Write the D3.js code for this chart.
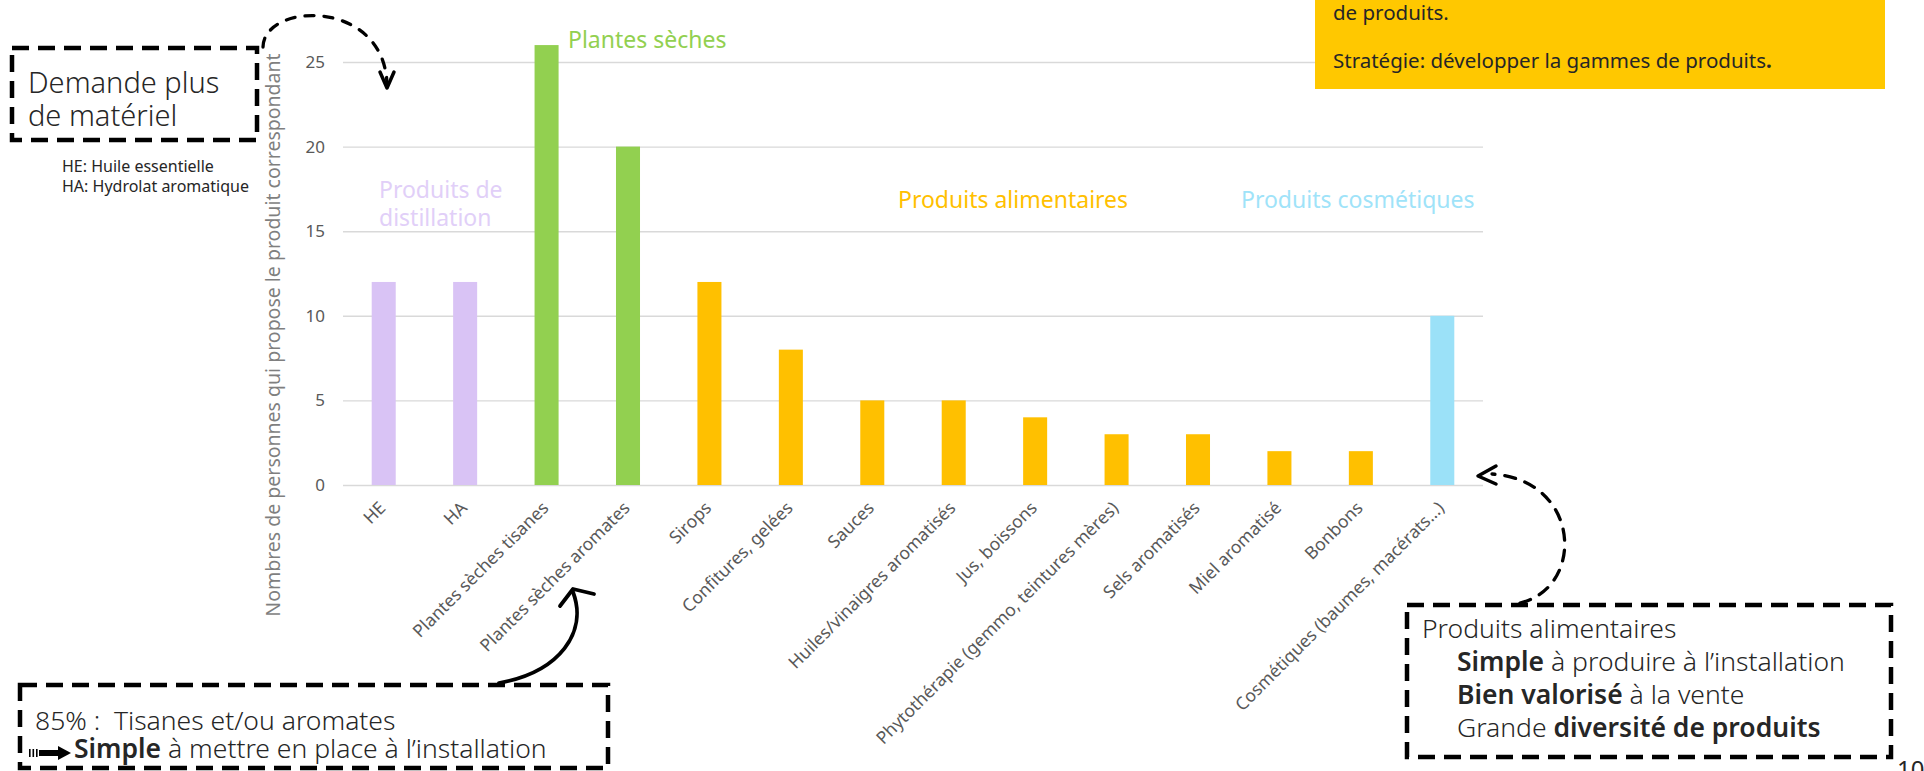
<!DOCTYPE html>
<html>
<head>
<meta charset="utf-8">
<script src="https://cdn.jsdelivr.net/npm/d3@7"></script>
<style>
body { margin: 0; background: #fff; }
svg { display: block; }
text { font-family: "Noto Sans", "Open Sans", sans-serif; white-space: pre; }
</style>
</head>
<body>
<svg width="1924" height="771"></svg>
<script>
// data
var categories = ["HE", "HA", "Plantes sèches tisanes", "Plantes sèches aromates", "Sirops",
	"Confitures, gelées", "Sauces", "Huiles/vinaigres aromatisés", "Jus, boissons",
	"Phytothérapie (gemmo, teintures mères)", "Sels aromatisés", "Miel aromatisé", "Bonbons",
	"Cosmétiques (baumes, macérats…)"];
var values = [12, 12, 26, 20, 12, 8, 5, 5, 4, 3, 3, 2, 2, 10];
var groupOf = ["dist", "dist", "plantes", "plantes", "alim", "alim", "alim", "alim", "alim",
	"alim", "alim", "alim", "alim", "cosm"];
var yTicks = [0, 5, 10, 15, 20, 25];
var yTitle = "Nombres de personnes qui propose le produit correspondant";

var groupKeys = ["dist", "plantes", "alim", "cosm"];
var groupNames = [["Produits de", "distillation"], ["Plantes sèches"], ["Produits alimentaires"], ["Produits cosmétiques"]];
var barColors = ["#d9c3f5", "#92d050", "#ffc000", "#9be1f8"];
var labelColors = ["#e1cff8", "#92d050", "#ffc000", "#9fe3f9"];

var svg = d3.select("svg");
// plot area (note: "top" is reserved on window, so use other names)
var plotLeft = 343, plotRight = 1483, plotTop = 62, plotBottom = 485;

var x = d3.scaleBand()
	.domain(categories)
	.range([plotLeft, plotRight])
	.paddingInner(0.705)
	.paddingOuter(0.3525);
var y = d3.scaleLinear()
	.domain([0, 25])
	.range([plotBottom, plotTop]);
var color = d3.scaleOrdinal().domain(groupKeys).range(barColors);
var lblColor = d3.scaleOrdinal().domain(groupKeys).range(labelColors);

// gridlines + y ticks
var gy = svg.append("g")
	.attr("transform", "translate(" + plotLeft + ",0)")
	.call(d3.axisLeft(y).tickValues(yTicks).tickSize(-(plotRight - plotLeft)).tickPadding(18));
gy.select(".domain").remove();
gy.selectAll("line").attr("stroke", "#d9d9d9").attr("stroke-width", 1.4);
gy.selectAll("text").attr("fill", "#595959").style("font-size", "17px")
	.style("font-family", "'Noto Sans', sans-serif");

// bars
svg.selectAll(".bar")
	.data(values)
	.enter().append("rect")
	.attr("class", "bar")
	.attr("x", function (d, i) { return x(categories[i]); })
	.attr("y", function (d) { return y(d); })
	.attr("width", x.bandwidth())
	.attr("height", function (d) { return y(0) - y(d); })
	.attr("fill", function (d, i) { return color(groupOf[i]); });

// x labels, rotated
var gx = svg.append("g")
	.attr("transform", "translate(0," + plotBottom + ")")
	.call(d3.axisBottom(x).tickSize(0));
gx.select(".domain").remove();
gx.selectAll("text")
	.attr("x", 0).attr("y", 0).attr("dy", 0)
	.attr("text-anchor", "end")
	.attr("transform", "translate(3,24) rotate(-45)")
	.attr("fill", "#595959")
	.style("font-size", "17.5px")
	.style("font-family", "'Noto Sans', sans-serif");

// y title
svg.append("text")
	.attr("transform", "translate(280,335) rotate(-90)")
	.attr("text-anchor", "middle")
	.attr("fill", "#7f7f7f")
	.style("font-size", "19.5px")
	.text(yTitle);

// group labels
var groupPos = [[379, 198], [568, 48], [898, 208], [1241, 208]];
groupNames.forEach(function (lines, i) {
	var t = svg.append("text")
		.attr("x", groupPos[i][0])
		.attr("y", groupPos[i][1])
		.attr("fill", lblColor(groupKeys[i]))
		.style("font-size", "23px");
	lines.forEach(function (l, j) {
		t.append("tspan").attr("x", groupPos[i][0]).attr("dy", j ? 28 : 0).text(l);
	});
});

// yellow note box, top right
svg.append("rect").attr("x", 1315).attr("y", 0).attr("width", 570).attr("height", 89).attr("fill", "#ffc800");
svg.append("text").attr("x", 1333).attr("y", 20).attr("fill", "#262626").style("font-size", "20.5px").text("de produits.");
svg.append("text").attr("x", 1333).attr("y", 68).attr("fill", "#262626").style("font-size", "20.5px")
	.text("Stratégie: développer la gammes de produits")
	.append("tspan").style("font-weight", "bold").text(".");

// dashed boxes
function dashBox(x0, y0, w, h) {
	svg.append("rect")
		.attr("x", x0).attr("y", y0).attr("width", w).attr("height", h)
		.attr("fill", "none").attr("stroke", "#000").attr("stroke-width", 4.5)
		.attr("stroke-dasharray", "17,9");
}
dashBox(12, 48, 245, 92);
dashBox(20, 685, 588, 83);
dashBox(1407, 605, 484, 152);

var ink = "#262626";
// top left box
svg.append("text").attr("x", 28).attr("y", 93).attr("fill", ink).style("font-size", "29px").style("font-weight", 300).text("Demande plus");
svg.append("text").attr("x", 28).attr("y", 126).attr("fill", ink).style("font-size", "29px").style("font-weight", 300).text("de matériel");
svg.append("text").attr("x", 62).attr("y", 172).attr("fill", ink).style("font-size", "16px").text("HE: Huile essentielle");
svg.append("text").attr("x", 62).attr("y", 192).attr("fill", ink).style("font-size", "16px").text("HA: Hydrolat aromatique");

// bottom left box
svg.append("text").attr("x", 35).attr("y", 730).attr("fill", ink).style("font-size", "26.5px").style("font-weight", 300)
	.text("85% :  Tisanes et/ou aromates");
var t2 = svg.append("text").attr("x", 74).attr("y", 758).attr("fill", ink).style("font-size", "26.5px").style("font-weight", 300);
t2.append("tspan").style("font-weight", 600).text("Simple");
t2.append("tspan").text(" à mettre en place à l’installation");
// striped arrow icon
[29, 32.5, 36].forEach(function (bx) {
	svg.append("rect").attr("x", bx).attr("y", 749).attr("width", 1.6).attr("height", 8).attr("fill", "#000");
});
svg.append("rect").attr("x", 39).attr("y", 750).attr("width", 20).attr("height", 6).attr("fill", "#000");
svg.append("path").attr("d", "M58,746 L71,753 L58,760 Z").attr("fill", "#000");

// bottom right box
var rLines = [[["Produits alimentaires", 300]],
	[["Simple", 600], [" à produire à l’installation", 300]],
	[["Bien valorisé", 600], [" à la vente", 300]],
	[["Grande ", 300], ["diversité de produits", 600]]];
rLines.forEach(function (parts, i) {
	var t = svg.append("text").attr("x", i ? 1457 : 1422).attr("y", 638 + i * 33)
		.attr("fill", ink).style("font-size", "26.5px");
	parts.forEach(function (p) { t.append("tspan").style("font-weight", p[1]).text(p[0]); });
});

// arrows
function line(d, dash, w) {
	svg.append("path").attr("d", d).attr("fill", "none").attr("stroke", "#000")
		.attr("stroke-width", w).attr("stroke-linecap", "round").attr("stroke-linejoin", "round")
		.attr("stroke-dasharray", dash);
}
line("M263,47 C264,2 384,-2 387,84", "9,10", 3.3);
line("M380,72 L387,88 L394,72", null, 3.5);
line("M499,683 C560,672 588,632 573,592", null, 3.8);
line("M560,606 L573,589 L594,594", null, 3.8);
line("M1520,603 C1585,588 1582,480 1492,474", "11,10", 3.3);
line("M1496,466 L1478,476 L1496,484", null, 3.5);

// page number
svg.append("text").attr("x", 1897).attr("y", 778).attr("fill", ink).style("font-size", "24px").text("10");
</script>
</body>
</html>
